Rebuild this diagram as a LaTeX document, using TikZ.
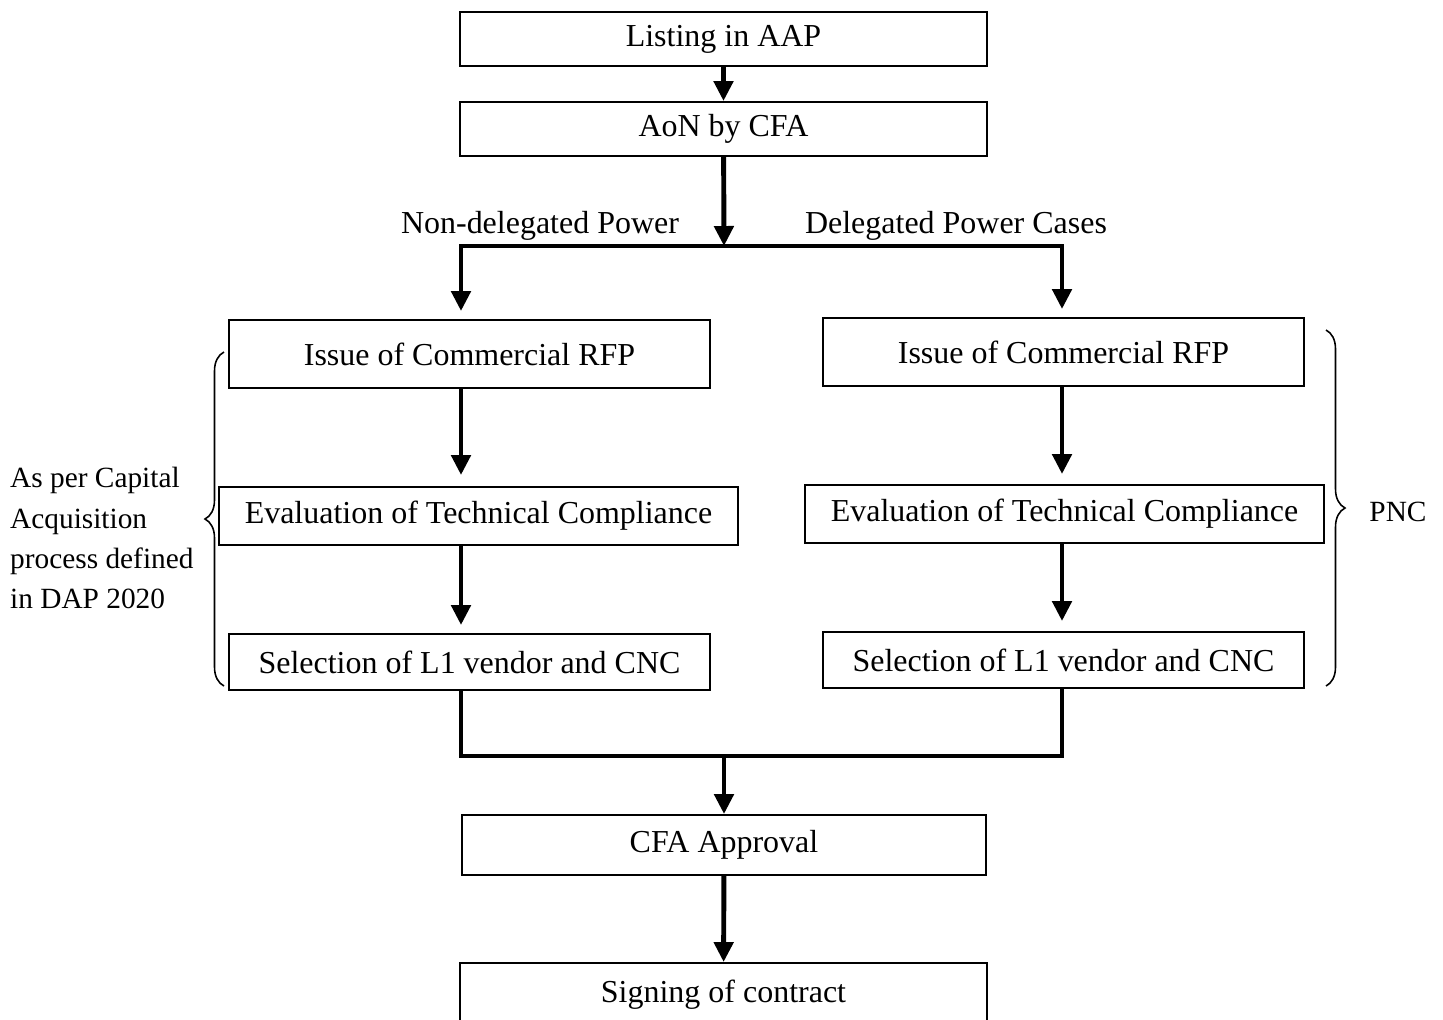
\documentclass[tikz,border=0pt]{standalone}
\usepackage{fontspec}
\setmainfont{Liberation Serif}
\usetikzlibrary{arrows.meta,decorations.pathreplacing}

\tikzset{
  box/.style={draw,line width=1.1pt,inner sep=0pt},
  flow/.style={line width=2.8pt},
  arr/.style={flow,-{Triangle[length=0.4cm,width=0.38cm]}},
  bracket/.style={line width=0.9pt,decorate,decoration={brace,amplitude=0.38cm}},
  sidetext/.style={font=\fontsize{16.7}{22.8}\selectfont}
}

\begin{document}
\begin{tikzpicture}[x=0.02cm,y=-0.02cm,font=\fontsize{18.2}{22.8}\selectfont]
    \useasboundingbox (0,0) rectangle (1443,1019);

    \node[box,minimum width=10.54cm,minimum height=1.08cm] (listing) at (723.5,39) {Listing in AAP};
    \node[box,minimum width=10.54cm,minimum height=1.08cm] (aon) at (723.5,129) {AoN by CFA};

    \node (nondel) at (540,226) {Non-delegated Power};
    \node (del) at (956,226) {Delegated Power Cases};

    %% left column
    \node[box,minimum width=9.62cm,minimum height=1.36cm] (lissue) at (469.5,354) {Issue of Commercial RFP};
    \node[box,minimum width=10.38cm,minimum height=1.16cm] (leval) at (478.5,516) {Evaluation of Technical Compliance};
    \node[box,minimum width=9.62cm,minimum height=1.12cm] (lsel) at (469.5,662) {Selection of L1 vendor and CNC};

    %% right column
    \node[box,minimum width=9.62cm,minimum height=1.36cm] (rissue) at (1063.5,352) {Issue of Commercial RFP};
    \node[box,minimum width=10.38cm,minimum height=1.16cm] (reval) at (1064.5,514) {Evaluation of Technical Compliance};
    \node[box,minimum width=9.62cm,minimum height=1.12cm] (rsel) at (1063.5,660) {Selection of L1 vendor and CNC};

    \node[box,minimum width=10.5cm,minimum height=1.2cm] (cfa) at (724,845) {CFA Approval};
    \node[box,minimum width=10.54cm,minimum height=1.28cm] (sign) at (723.5,995) {Signing of contract};

    \node[sidetext,anchor=west,align=left] (dapnote) at (4,538) {As per Capital\\Acquisition\\process defined\\in DAP 2020};
    \node[sidetext] (pnc) at (1398,512) {PNC};

    \coordinate (split) at (724,246);
    \coordinate (splitL) at (461,246);
    \coordinate (splitR) at (1062,246);
    \coordinate (merge) at (724,756);
    \coordinate (mergeL) at (461,756);
    \coordinate (mergeR) at (1062,756);
    \coordinate (bracelo) at (224,686);
    \coordinate (braceloup) at (224,352);
    \coordinate (bracerup) at (1326,330);
    \coordinate (bracerlo) at (1326,686);

    \draw[arr] (listing) to (aon);
    \draw[arr] (aon) to (split);
    \draw[flow,line cap=rect] (splitL) to (splitR);
    \draw[arr,shorten >=0.16cm] (splitL) to (splitL |- lissue.north);
    \draw[arr,shorten >=0.16cm] (splitR) to (splitR |- rissue.north);

    \draw[arr,shorten >=0.22cm] (lissue.south -| splitL) to (leval.north -| splitL);
    \draw[arr,shorten >=0.16cm] (leval.south -| splitL) to (lsel.north -| splitL);
    \draw[arr,shorten >=0.2cm] (rissue.south -| splitR) to (reval.north -| splitR);
    \draw[arr,shorten >=0.2cm] (reval.south -| splitR) to (rsel.north -| splitR);

    \draw[flow,line join=miter] (lsel.south -| mergeL) -- (mergeL) -- (mergeR) -- (rsel.south -| mergeR);
    \draw[arr] (merge) to (cfa);
    \draw[arr] (cfa) to (sign);

    \draw[bracket] (bracelo) to (braceloup);
    \draw[bracket] (bracerup) to (bracerlo);
\end{tikzpicture}
\end{document}
